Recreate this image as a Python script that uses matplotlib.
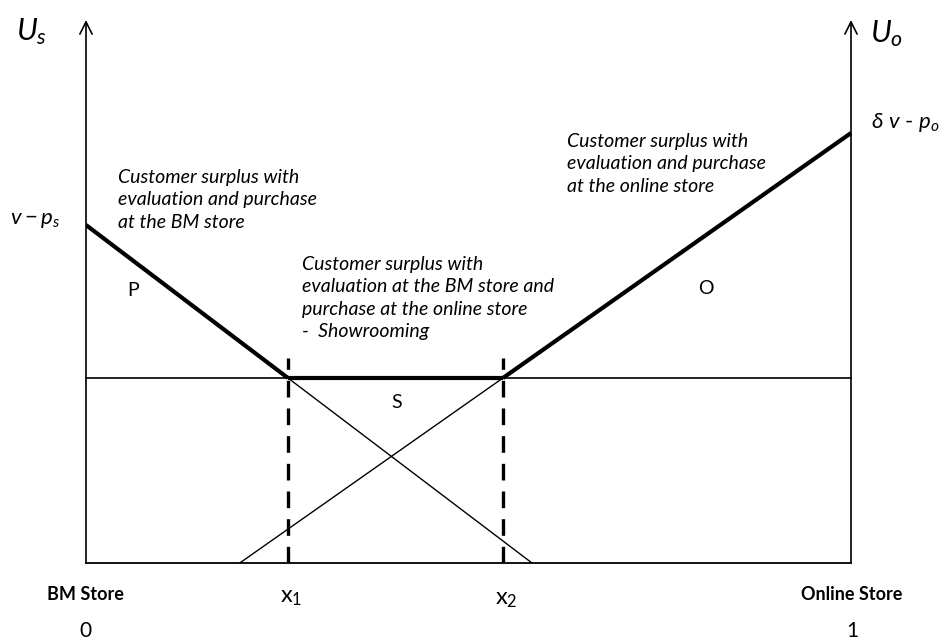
"""
Showrooming diagram: customer surplus along the Hotelling line
between the BM store (0) and the online store (1).
"""

import matplotlib
matplotlib.use("Agg")
import matplotlib.pyplot as plt

plt.rcParams["font.family"] = ["Lato", "DejaVu Sans"]
plt.rcParams["mathtext.fontset"] = "custom"
plt.rcParams["mathtext.rm"] = "Lato"
plt.rcParams["mathtext.it"] = "Lato:italic"
plt.rcParams["mathtext.fallback"] = "stixsans"

# ── Data (x on [0, 1], utility in arbitrary units) ──────────────────────────
X1 = 0.264
X2 = 0.545
U_MAX = 543                      # top of the utility axes

# BM store surplus U_s: intercept v - p_s, crosses the S level at x1, hits 0
BM_X = [0.0, X1, 0.583]
BM_U = [338, 185, 0]

# Online store surplus U_o: starts at 0, meets S level at x2, ends at dv - p_o
ON_X = [0.201, X2, 1.0]
ON_U = [0, 185, 430]

# Showrooming surplus level (flat)
SHOW_U = 185

REGION_LABELS = ["P", "S", "O"]
REGION_POS = [(0.061, 273), (0.406, 161), (0.810, 275)]

NOTE_BM = "Customer surplus with\nevaluation and purchase\nat the BM store"
NOTE_SHOW = ("Customer surplus with\nevaluation at the BM store and\n"
             "purchase at the online store\n-  Showrooming")
NOTE_ON = "Customer surplus with\nevaluation and purchase\nat the online store"

W, H = 941, 644


def px(x, y):
    """pixel position (from top-left) -> figure fraction"""
    return x / W, 1 - y / H


def main():
    fig = plt.figure(figsize=(W / 100, H / 100), dpi=100)
    left, bottom = px(86, 563)
    ax = fig.add_axes([left, bottom, 765 / W, U_MAX / H])
    ax.set_xlim(0, 1)
    ax.set_ylim(0, U_MAX)
    ax.axis("off")

    # axes with open arrow heads
    arrow = dict(arrowstyle="->", lw=1.2, color="black", mutation_scale=22,
                 shrinkA=0, shrinkB=0)
    ax.annotate("", xy=(0, U_MAX), xytext=(0, 0), arrowprops=arrow,
                annotation_clip=False)
    ax.annotate("", xy=(1, U_MAX), xytext=(1, 0), arrowprops=arrow,
                annotation_clip=False)
    ax.plot([0, 1], [0, 0], color="black", lw=1.3, clip_on=False)

    # thin full lines
    ax.plot(BM_X[1:], BM_U[1:], color="black", lw=1.0)
    ax.plot(ON_X[:2], ON_U[:2], color="black", lw=1.0)
    ax.plot([0, 1], [SHOW_U, SHOW_U], color="black", lw=1.2, clip_on=False)

    # thick envelope: P, S, O
    ax.plot(BM_X[:2], BM_U[:2], color="black", lw=3.0, solid_capstyle="butt")
    ax.plot([X1, X2], [SHOW_U, SHOW_U], color="black", lw=3.0,
            solid_capstyle="butt")
    ax.plot(ON_X[1:], ON_U[1:], color="black", lw=3.0, solid_capstyle="butt",
            clip_on=False)

    # dashed boundaries at x1 and x2
    for xv in [X1, X2]:
        ax.plot([xv, xv], [0, SHOW_U + 20], color="black", lw=2.4,
                linestyle=(0, (5, 3.3)))

    for lab, (xv, yv) in zip(REGION_LABELS, REGION_POS):
        ax.text(xv, yv, lab, fontsize=14, ha="center", va="center")

    # notes
    note_kw = dict(fontsize=14, fontstyle="italic", ha="left", va="top",
                   linespacing=1.38)
    fig.text(*px(118, 169), NOTE_BM, **note_kw)
    fig.text(*px(302, 256), NOTE_SHOW, **note_kw)
    fig.text(*px(567, 133), NOTE_ON, **note_kw)

    # axis labels
    fig.text(*px(16, 32), r"$U_s$", fontsize=22, ha="left", va="center")
    fig.text(*px(870, 34), r"$U_o$", fontsize=22, ha="left", va="center")
    fig.text(*px(10, 220), r"$v - p_s$", fontsize=16, ha="left", va="center")
    fig.text(*px(871, 122), r"$\delta\ v$ - $p_o$", fontsize=16,
             ha="left", va="center")

    # bottom labels
    fig.text(*px(85, 594), "BM Store", fontsize=13, fontweight="bold",
             ha="center", va="center")
    fig.text(*px(852, 594), "Online Store", fontsize=13, fontweight="bold",
             ha="center", va="center")
    fig.text(*px(85, 631), "0", fontsize=15, ha="center", va="center")
    fig.text(*px(852, 631), "1", fontsize=15, ha="center", va="center")
    fig.text(*px(291, 598), r"$\mathrm{x}_1$", fontsize=17, ha="center",
             va="center")
    fig.text(*px(506, 600), r"$\mathrm{x}_2$", fontsize=17, ha="center",
             va="center")

    fig.savefig("out.png", dpi=100)


if __name__ == "__main__":
    main()
